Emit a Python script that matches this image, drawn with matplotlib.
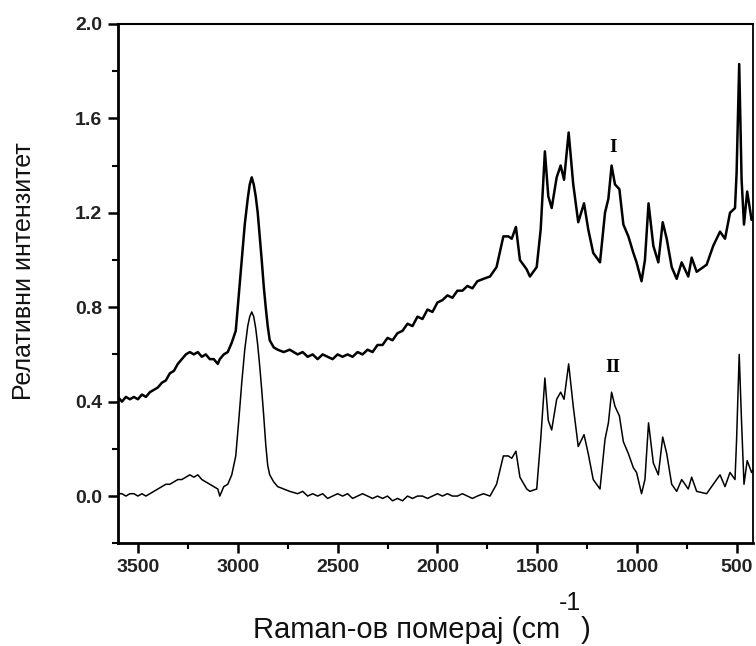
import matplotlib
matplotlib.use("Agg")
import matplotlib.pyplot as plt
from matplotlib.ticker import MultipleLocator

# Raman-ов помак (cm-1), заедничка мрежа за двата спектри
shift = [3600, 3580, 3560, 3540, 3520, 3500, 3480, 3460, 3440, 3420, 3400, 3380,
         3360, 3340, 3320, 3300, 3280, 3260, 3240, 3220, 3200, 3180, 3160, 3140,
         3120, 3100, 3090, 3070, 3050, 3030, 3010, 2995, 2980, 2965, 2950,
         2940, 2930, 2920, 2910, 2900, 2890, 2880, 2870, 2860, 2850, 2840, 2820,
         2800, 2770, 2740, 2700, 2675, 2650, 2625, 2600, 2575, 2550, 2525, 2500,
         2475, 2450, 2425, 2400, 2375, 2350, 2325, 2300, 2275, 2250, 2225, 2200,
         2175, 2150, 2125, 2100, 2075, 2050, 2025, 2000, 1975, 1950, 1925, 1900,
         1875, 1850, 1825, 1800, 1770,
         1737, 1704, 1670, 1645, 1628, 1607, 1587, 1553, 1537, 1503, 1483, 1462,
         1445, 1428, 1403, 1383, 1366, 1343, 1320, 1295, 1266, 1245, 1220, 1186,
         1161, 1144, 1128, 1111, 1089, 1069, 1044, 1019, 1003, 978, 961, 943,
         919, 894, 872, 852, 827, 802, 777, 744, 727, 702, 652, 619, 585, 560,
         535, 510, 502, 489, 477, 465, 449, 427, 420]

spec_I = [0.42, 0.40, 0.42, 0.41, 0.42, 0.41, 0.43, 0.42, 0.44, 0.45, 0.46, 0.48,
          0.49, 0.52, 0.53, 0.56, 0.58, 0.60, 0.61, 0.60, 0.61, 0.59, 0.60, 0.58,
          0.58, 0.56, 0.58, 0.60, 0.61, 0.65, 0.70, 0.85, 1.00, 1.15, 1.26,
          1.32, 1.35, 1.32, 1.27, 1.20, 1.10, 1.00, 0.89, 0.80, 0.72, 0.66, 0.63,
          0.62, 0.61, 0.62, 0.60, 0.61, 0.59, 0.60, 0.58, 0.60, 0.59, 0.58, 0.60,
          0.59, 0.60, 0.59, 0.61, 0.60, 0.62, 0.61, 0.64, 0.64, 0.67, 0.66, 0.69,
          0.70, 0.73, 0.72, 0.76, 0.75, 0.79, 0.78, 0.82, 0.83, 0.85, 0.84, 0.87,
          0.87, 0.89, 0.88, 0.91, 0.92,
          0.93, 0.97, 1.10, 1.10, 1.09, 1.14, 1.00, 0.96, 0.93, 0.97, 1.13, 1.46,
          1.27, 1.22, 1.35, 1.40, 1.34, 1.54, 1.32, 1.16, 1.24, 1.13, 1.03, 0.99,
          1.20, 1.26, 1.40, 1.32, 1.30, 1.15, 1.10, 1.03, 0.99, 0.91, 1.00, 1.24,
          1.06, 0.99, 1.16, 1.09, 0.97, 0.92, 0.99, 0.93, 1.01, 0.95, 0.98, 1.06,
          1.12, 1.09, 1.20, 1.22, 1.37, 1.83, 1.34, 1.15, 1.29, 1.17, 1.18]

spec_II = [0.01, 0.01, 0.00, 0.01, 0.01, 0.00, 0.01, 0.00, 0.01, 0.02, 0.03, 0.04,
           0.05, 0.05, 0.06, 0.07, 0.07, 0.08, 0.09, 0.08, 0.09, 0.07, 0.06, 0.05,
           0.04, 0.03, 0.00, 0.04, 0.05, 0.09, 0.17, 0.32, 0.48, 0.62, 0.72,
           0.76, 0.78, 0.76, 0.71, 0.64, 0.55, 0.45, 0.34, 0.22, 0.13, 0.09, 0.06,
           0.04, 0.03, 0.02, 0.01, 0.02, 0.00, 0.01, 0.00, 0.01, -0.01, 0.00, 0.01,
           0.00, 0.01, -0.01, 0.00, 0.01, 0.00, -0.01, 0.00, -0.01, 0.00, -0.02, -0.01,
           -0.02, 0.00, -0.01, 0.00, 0.00, -0.01, 0.00, 0.01, 0.00, 0.01, 0.00, 0.00,
           0.01, 0.00, -0.01, 0.00, 0.01,
           0.00, 0.05, 0.17, 0.17, 0.16, 0.19, 0.08, 0.03, 0.02, 0.03, 0.24, 0.50,
           0.32, 0.28, 0.41, 0.44, 0.41, 0.56, 0.38, 0.21, 0.26, 0.18, 0.07, 0.03,
           0.24, 0.31, 0.44, 0.38, 0.34, 0.23, 0.18, 0.12, 0.10, 0.01, 0.07, 0.31,
           0.14, 0.09, 0.25, 0.18, 0.05, 0.02, 0.07, 0.03, 0.08, 0.02, 0.01, 0.05,
           0.09, 0.04, 0.10, 0.07, 0.24, 0.60, 0.31, 0.05, 0.15, 0.10, 0.11]

labels = ["I", "II"]
label_pos = [(1121, 1.44), (1121, 0.51)]

plt.rcParams["font.family"] = ["Liberation Sans", "DejaVu Sans"]

fig = plt.figure(figsize=(7.56, 6.46), dpi=100)
ax = fig.add_axes([0.156, 0.159, 0.84, 0.804])

ax.plot(shift, spec_I, color="black", lw=1.8)
ax.plot(shift, spec_II, color="black", lw=1.1)

for txt, (xx, yy) in zip(labels, label_pos):
    ax.text(xx, yy, txt, fontsize=14, fontweight="bold", family="Liberation Serif",
            ha="center", va="bottom")

ax.set_xlim(3600, 420)
ax.set_ylim(-0.2, 2.0)
ax.xaxis.set_major_locator(MultipleLocator(500))
ax.xaxis.set_minor_locator(MultipleLocator(250))
ax.yaxis.set_major_locator(MultipleLocator(0.4))
ax.yaxis.set_minor_locator(MultipleLocator(0.2))
ax.yaxis.set_major_formatter(plt.FormatStrFormatter("%.1f"))

ax.spines["left"].set_linewidth(2.0)
ax.spines["bottom"].set_linewidth(2.0)
ax.spines["top"].set_linewidth(1.5)
ax.spines["right"].set_linewidth(1.3)
ax.tick_params(which="major", length=7.5, width=1.8, direction="out",
               labelsize=14, pad=4)
ax.tick_params(which="minor", length=4.5, width=1.5, direction="out")
for lab in ax.get_xticklabels() + ax.get_yticklabels():
    lab.set_fontweight("bold")
    lab.set_color("#222222")

# x-оска: натпис со голем експонент како во оригиналот
t1 = fig.text(253 / 756, 1 - 638 / 646, "Raman-ов померај (cm", fontsize=21,
              va="baseline", ha="left", color="#111111")
t2 = ax.annotate("-1", xy=(1, 1), xycoords=t1, xytext=(-1, 1),
                 textcoords="offset points", va="bottom", ha="left",
                 fontsize=18, color="#111111", annotation_clip=False)
ax.annotate(")", xy=(1, 0), xycoords=(t2, t1), va="bottom", ha="left",
            fontsize=21, color="#111111", annotation_clip=False)

ax.set_ylabel("Релативни интензитет", fontsize=18, color="#111111")
ax.yaxis.set_label_coords(-0.129, 0.524)

fig.savefig("out.png", dpi=100)
